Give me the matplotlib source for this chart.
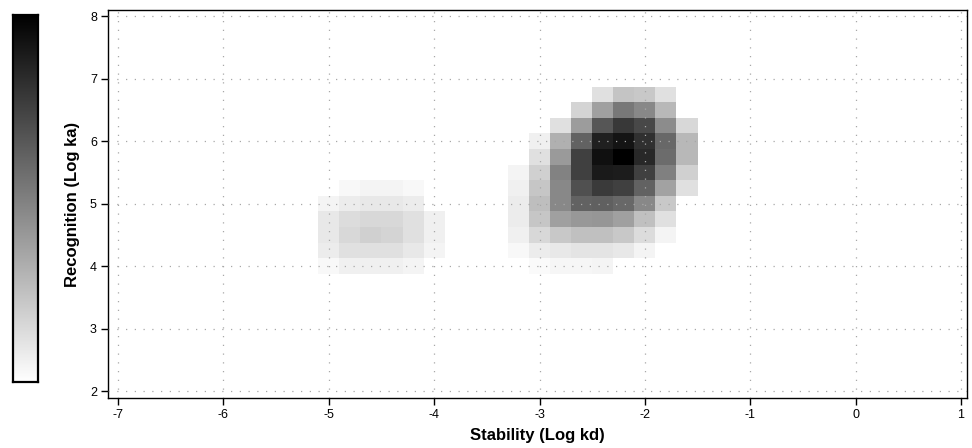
import numpy as np
import matplotlib
matplotlib.use("Agg")
import matplotlib.pyplot as plt

plt.rcParams['font.family'] = ['Liberation Sans', 'DejaVu Sans']

# cell centres (Log kd, Log ka) and grey level (0 = white, 255 = black)
right_x = [-3.2, -3.0, -2.8, -2.6, -2.4, -2.2, -2.0, -1.8, -1.6]
right_y = [6.75, 6.5, 6.25, 6.0, 5.75, 5.5, 5.25, 5.0, 4.75, 4.5, 4.25, 4.0]
right_gray = [
    [None, None, None, None, 0xe0, 0xc4, 0xc8, 0xe0, None],
    [None, None, None, 0xd4, 0xa0, 0x78, 0x88, 0xb8, None],
    [None, None, 0xe0, 0x9c, 0x56, 0x38, 0x48, 0x8c, 0xd8],
    [None, 0xf0, 0xb0, 0x62, 0x20, 0x14, 0x30, 0x68, 0xb8],
    [None, 0xe0, 0x9a, 0x40, 0x10, 0x00, 0x28, 0x6c, 0xb8],
    [0xf4, 0xd0, 0x82, 0x40, 0x1a, 0x1c, 0x40, 0x80, 0xd0],
    [0xf0, 0xc6, 0x88, 0x50, 0x3a, 0x40, 0x62, 0xa2, 0xe0],
    [0xec, 0xbe, 0x88, 0x62, 0x60, 0x68, 0x88, 0xc8, None],
    [0xec, 0xc6, 0xa0, 0x98, 0x96, 0xa0, 0xc0, 0xe0, None],
    [0xf0, 0xd8, 0xc8, 0xc0, 0xc0, 0xc8, 0xdc, 0xf4, None],
    [0xf8, 0xec, 0xe8, 0xe4, 0xe4, 0xe8, 0xf4, None, None],
    [None, 0xfa, 0xf6, 0xf6, 0xf4, None, None, None, None],
]

left_x = [-5.0, -4.8, -4.6, -4.4, -4.2, -4.0]
left_y = [5.25, 5.0, 4.75, 4.5, 4.25, 4.0]
left_gray = [
    [None, 0xf8, 0xf4, 0xf4, 0xf8, None],
    [0xf4, 0xec, 0xe8, 0xe8, 0xec, None],
    [0xe8, 0xdc, 0xd8, 0xd8, 0xe0, 0xf0],
    [0xe8, 0xd8, 0xd0, 0xd4, 0xe0, 0xf0],
    [0xec, 0xe0, 0xe0, 0xe0, 0xe8, 0xf4],
    [0xf8, 0xf0, 0xf0, 0xf0, 0xf4, None],
]

x_ticks = [-7, -6, -5, -4, -3, -2, -1, 0, 1]
y_ticks = [2, 3, 4, 5, 6, 7, 8]


def edges(c, w):
    c = np.asarray(c, dtype=float)
    return np.concatenate([c - w / 2, [c[-1] + w / 2]])


def darkness(g):
    a = np.array([[np.nan if v is None else 255 - v for v in row] for row in g], dtype=float)
    return np.ma.masked_invalid(a)


fig = plt.figure(figsize=(9.72, 4.48), dpi=100)
ax = fig.add_axes([108 / 972, 50 / 448, 859 / 972, 388 / 448])
cax = fig.add_axes([13 / 972, 66 / 448, 25 / 972, 367 / 448])

for xs, ys, g in [(right_x, right_y, right_gray), (left_x, left_y, left_gray)]:
    ye = edges(ys[::-1], 0.25)
    z = darkness(g)[::-1]
    ax.pcolormesh(edges(xs, 0.2), ye, z, cmap='gray_r', vmin=0, vmax=255,
                  shading='flat', zorder=1)

ax.set_xlim(-7.095, 1.057)
ax.set_ylim(1.89, 8.1)
ax.set_xticks(x_ticks)
ax.set_yticks(y_ticks)
ax.set_xticklabels([str(t) for t in x_ticks])
ax.grid(True, color='#a8a8a8', linestyle=(0, (1, 6)), linewidth=0.9, zorder=3)
ax.set_axisbelow(False)
ax.tick_params(direction='out', length=5, width=1, labelsize=9, colors='black', pad=3)
for s in ax.spines.values():
    s.set_linewidth(1.0)
    s.set_color('black')
ax.set_xlabel('Stability (Log kd)', fontsize=12, fontweight='bold', labelpad=5)
ax.set_ylabel('Recognition (Log ka)', fontsize=12, fontweight='bold', labelpad=7)

# colour bar without ticks
grad = np.linspace(0, 1, 256).reshape(-1, 1)
cax.imshow(grad, aspect='auto', cmap='gray_r', origin='lower', extent=[0, 1, 0, 1])
cax.set_xticks([])
cax.set_yticks([])
for s in cax.spines.values():
    s.set_linewidth(1.6)
    s.set_color('black')

fig.savefig('out.png', dpi=100)
